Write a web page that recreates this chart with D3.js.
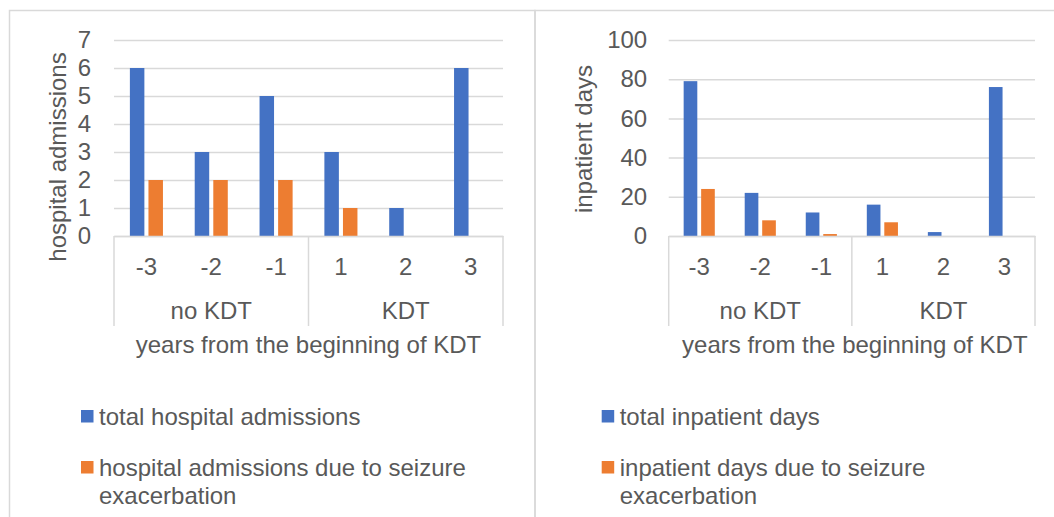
<!DOCTYPE html>
<html>
<head>
<meta charset="utf-8">
<script src="https://cdn.jsdelivr.net/npm/d3@7"></script>
<style>
  body { margin: 0; background: #fff; }
  svg { display: block; font-family: 'Liberation Sans', Arial, sans-serif; }
</style>
</head>
<body>
<svg id="chart" width="1054" height="517"></svg>
<script>
// data
const years = ['-3', '-2', '-1', '1', '2', '3'];
const yearGroup = ['no KDT', 'no KDT', 'no KDT', 'KDT', 'KDT', 'KDT'];
const groups = ['no KDT', 'KDT'];

const totalAdmissions = [6, 3, 5, 3, 1, 6];
const seizureAdmissions = [2, 2, 2, 1, 0, 0];
const admissionTicks = [0, 1, 2, 3, 4, 5, 6, 7];

const totalDays = [79, 22, 12, 16, 2, 76];
const seizureDays = [24, 8, 1, 7, 0, 0];
const dayTicks = [0, 20, 40, 60, 80, 100];

const colors = ['#4472C4', '#ED7D31'];
const textColor = '#595959';
const lineColor = '#d9d9d9';
const fontSize = 24;

const svg = d3.select('#chart');

// chart frames
svg.append('rect')
  .attr('x', 9.5).attr('y', 10.5)
  .attr('width', 525.5).attr('height', 520)
  .attr('fill', 'none').attr('stroke', lineColor).attr('stroke-width', 1.5);
svg.append('rect')
  .attr('x', 535).attr('y', 10.5)
  .attr('width', 540).attr('height', 520)
  .attr('fill', 'none').attr('stroke', lineColor).attr('stroke-width', 1.5);

const drawPanel = (opts) => {
  const { left, right, top, bottom, series, names, ticks, yTitle, yTitleX, yTitleY, tickPad, legendX } = opts;
  const g = svg.append('g');

  const x0 = d3.scaleBand().domain(years).range([left, right]).padding(0);
  const cw = x0.bandwidth();
  const clusterW = cw * 0.51;
  const x1 = d3.scaleBand()
    .domain(d3.range(series.length))
    .range([cw / 2 - clusterW / 2, cw / 2 + clusterW / 2])
    .paddingInner(0.22);

  const y = d3.scaleLinear()
    .domain([0, d3.max(ticks)])
    .range([bottom, top]);

  // gridlines + y tick labels
  const yAxis = g.append('g')
    .attr('transform', `translate(${left},0)`)
    .call(d3.axisLeft(y)
      .tickValues(ticks)
      .tickFormat(d3.format('d'))
      .tickSize(-(right - left))
      .tickPadding(tickPad));
  yAxis.select('.domain').remove();
  yAxis.selectAll('line').attr('stroke', lineColor).attr('stroke-width', 1.5);
  yAxis.selectAll('text')
    .attr('fill', textColor)
    .style('font-size', `${fontSize}px`)
    .style('font-family', 'inherit');

  // bars
  series.forEach((values, si) => {
    g.append('g')
      .selectAll('rect')
      .data(values)
      .enter()
      .append('rect')
      .attr('x', (d, i) => x0(years[i]) + x1(si))
      .attr('y', (d) => y(d))
      .attr('width', x1.bandwidth())
      .attr('height', (d) => bottom - y(d))
      .attr('fill', colors[si]);
  });

  // category axis
  const xAxis = g.append('g')
    .attr('transform', `translate(0,${bottom})`)
    .call(d3.axisBottom(x0).tickSize(0).tickPadding(22));
  xAxis.select('.domain').attr('stroke', lineColor).attr('stroke-width', 1.5);
  xAxis.selectAll('text')
    .attr('fill', textColor)
    .style('font-size', `${fontSize}px`)
    .style('font-family', 'inherit');

  // group separators and group labels
  const bounds = [left];
  groups.forEach((grp) => {
    const idx = years.filter((yr, i) => yearGroup[i] === grp);
    const gx0 = x0(idx[0]);
    const gx1 = x0(idx[idx.length - 1]) + cw;
    bounds.push(gx1);
    g.append('text')
      .attr('x', (gx0 + gx1) / 2)
      .attr('y', bottom + 83)
      .attr('text-anchor', 'middle')
      .attr('fill', textColor)
      .style('font-size', `${fontSize}px`)
      .text(grp);
  });
  bounds.forEach((bx) => {
    g.append('line')
      .attr('x1', bx).attr('x2', bx)
      .attr('y1', bottom).attr('y2', bottom + 90)
      .attr('stroke', lineColor).attr('stroke-width', 1.5);
  });

  // axis titles
  g.append('text')
    .attr('x', (left + right) / 2 + opts.xTitleShift)
    .attr('y', bottom + 117)
    .attr('text-anchor', 'middle')
    .attr('fill', textColor)
    .style('font-size', `${fontSize}px`)
    .text('years from the beginning of KDT');

  g.append('text')
    .attr('transform', `translate(${yTitleX},${yTitleY}) rotate(-90)`)
    .attr('text-anchor', 'middle')
    .attr('fill', textColor)
    .style('font-size', '24px')
    .text(yTitle);

  // legend
  const legend = g.append('g').attr('transform', `translate(${legendX},0)`);
  const legendRows = [[names[0]], names[1]];
  const rowY = [410, 461];
  legendRows.forEach((lines, i) => {
    legend.append('rect')
      .attr('x', 0).attr('y', rowY[i])
      .attr('width', 12.5).attr('height', 12.5)
      .attr('fill', colors[i]);
    const t = legend.append('text')
      .attr('x', 18)
      .attr('y', rowY[i] + 15)
      .attr('fill', textColor)
      .style('font-size', `${fontSize}px`);
    lines.forEach((ln, li) => {
      t.append('tspan')
        .attr('x', 18)
        .attr('dy', li === 0 ? 0 : 28)
        .text(ln);
    });
  });
};

drawPanel({
  left: 114, right: 503, top: 40, bottom: 236,
  series: [totalAdmissions, seizureAdmissions],
  names: ['total hospital admissions', ['hospital admissions due to seizure', 'exacerbation']],
  ticks: admissionTicks,
  yTitle: 'hospital admissions', yTitleX: 66, yTitleY: 157,
  tickPad: 23, legendX: 81, xTitleShift: 0
});

drawPanel({
  left: 668.7, right: 1035, top: 40, bottom: 236,
  series: [totalDays, seizureDays],
  names: ['total inpatient days', ['inpatient days due to seizure', 'exacerbation']],
  ticks: dayTicks,
  yTitle: 'inpatient days', yTitleX: 592, yTitleY: 139,
  tickPad: 21.5, legendX: 601.7, xTitleShift: 3
});
</script>
</body>
</html>
